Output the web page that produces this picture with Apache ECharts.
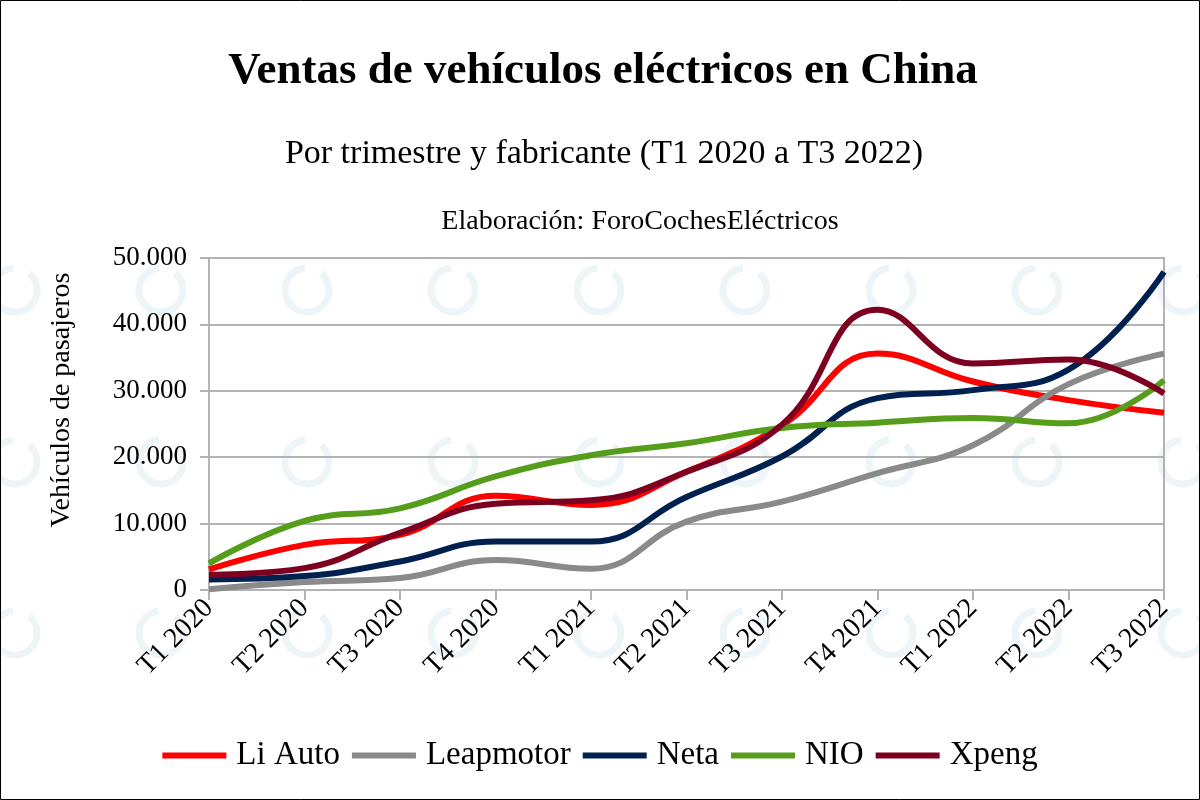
<!DOCTYPE html>
<html>
<head>
<meta charset="utf-8">
<script src="https://cdn.jsdelivr.net/npm/echarts@6/dist/echarts.min.js"></script>
<style>
html,body{margin:0;padding:0;background:#fff;}
#chart{width:1200px;height:800px;}
</style>
</head>
<body>
<div id="chart"></div>
<script>
const categories = ['T1 2020','T2 2020','T3 2020','T4 2020','T1 2021','T2 2021','T3 2021','T4 2021','T1 2022','T2 2022','T3 2022'];
const liAuto    = [3100, 6800, 8300, 14200, 12800, 17800, 24800, 35600, 31400, 28600, 26700];
const leapmotor = [100, 1200, 1800, 4500, 3200, 10300, 13300, 17600, 21800, 31000, 35600];
const neta      = [1600, 2100, 4300, 7300, 7300, 14000, 20100, 28900, 30100, 33200, 47900];
const nio       = [4000, 10400, 12300, 17100, 20300, 22100, 24400, 25200, 25900, 25100, 31600];
const xpeng     = [2300, 3300, 8600, 13000, 13500, 17800, 24900, 42200, 34100, 34700, 29600];
const seriesNames = ['Li Auto','Leapmotor','Neta','NIO','Xpeng'];
const seriesData = [liAuto, leapmotor, neta, nio, xpeng];
const colors = ['#ff0000','#8a8a8a','#00204f','#579d1c','#7e0021'];
const yTicks = [0, 10000, 20000, 30000, 40000, 50000];

const FONT = '"Liberation Serif", "Times New Roman", serif';
const chart = echarts.init(document.getElementById('chart'), null, {renderer:'canvas'});

// faint watermark rings
const wm = [];
const wmX = [15, 161, 307, 453, 599, 745, 891, 1037, 1183];
const wmY = [290, 462, 633];
wmY.forEach(cy => wmX.forEach(cx => {
  wm.push({type:'arc', silent:true, z:-10,
    shape:{cx:cx, cy:cy, r:22, startAngle:-50*Math.PI/180, endAngle:265*Math.PI/180, clockwise:true},
    style:{stroke:'#eef5f8', lineWidth:7, fill:null}});
}));
wm.push({type:'rect', silent:true, z:100, shape:{x:0.5,y:0.5,width:1199,height:799},
  style:{stroke:'#000', lineWidth:1, fill:null}});
wm.push({type:'text', silent:true, z:10, x:62, y:400, rotation:Math.PI/2,
  style:{text:'Vehículos de pasajeros', font:'28px ' + FONT, fill:'#000', textAlign:'center', textVerticalAlign:'middle'}});

const fmt = v => String(v).replace(/\B(?=(\d{3})+(?!\d))/g, '.');

chart.setOption({
  animation:false,
  backgroundColor:'#fff',
  color: colors,
  title:[
    {text:'Ventas de vehículos eléctricos en China', left:598, top:44, textAlign:'center',
     textStyle:{fontFamily:FONT, fontSize:45, fontWeight:'bold', color:'#000'}},
    {text:'Por trimestre y fabricante (T1 2020 a T3 2022)', left:599, top:132, textAlign:'center',
     textStyle:{fontFamily:FONT, fontSize:34, fontWeight:'normal', color:'#000'}},
    {text:'Elaboración: ForoCochesEléctricos', left:635, top:203, textAlign:'center',
     textStyle:{fontFamily:FONT, fontSize:28, fontWeight:'normal', color:'#000'}}
  ],
  graphic: wm,
  legend:{
    data: seriesNames, left:'center', top:734, icon:'rect', itemWidth:64, itemHeight:6, itemGap:12,
    textStyle:{fontFamily:FONT, fontSize:33, color:'#000', padding:[0,0,0,5]}
  },
  grid:{left:209, right:36, top:258, bottom:210, show:true, borderColor:'#b3b3b3', borderWidth:2, containLabel:false},
  xAxis:{
    type:'category', data:categories, boundaryGap:false,
    axisLine:{show:true, lineStyle:{color:'#b3b3b3', width:2}},
    axisTick:{show:true, length:10, lineStyle:{color:'#b3b3b3', width:2}},
    axisLabel:{rotate:45, margin:14, fontFamily:FONT, fontSize:28, color:'#000'},
    splitLine:{show:false}
  },
  yAxis:{
    type:'value', min:0, max:50000, interval:10000,
    axisLine:{show:true, lineStyle:{color:'#b3b3b3', width:2}},
    axisTick:{show:true, length:9, lineStyle:{color:'#b3b3b3', width:2}},
    axisLabel:{margin:22, fontFamily:FONT, fontSize:27, color:'#000', formatter: v => fmt(v)},
    splitLine:{show:true, lineStyle:{color:'#b3b3b3', width:2}}
  },
  series: seriesNames.map((n,i) => ({
    name:n, type:'line', data:seriesData[i], smooth:0.45, showSymbol:false, symbol:'none',
    lineStyle:{width:6, color:colors[i]}, itemStyle:{color:colors[i]}, z:2+i
  }))
});
</script>
</body>
</html>
